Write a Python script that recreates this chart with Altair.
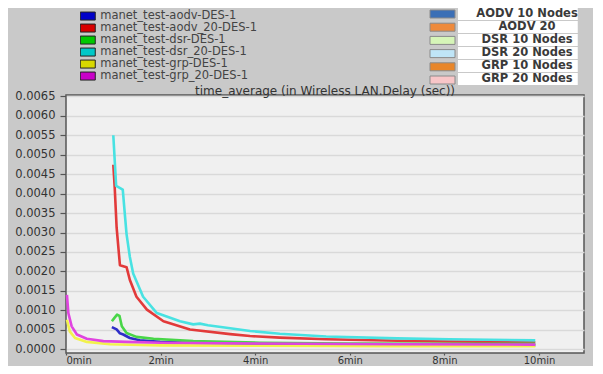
import altair as alt
import pandas as pd

# ---------------- data ----------------
series = ["manet_test-aodv-DES-1", "manet_test-aodv_20-DES-1", "manet_test-dsr-DES-1",
          "manet_test-dsr_20-DES-1", "manet_test-grp-DES-1", "manet_test-grp_20-DES-1"]
line_colors = ["#2e2ec8", "#e23a3a", "#48d648", "#48e2e2", "#f2f24c", "#e044e0"]
symbol_colors = ["#0000c8", "#d80000", "#00c800", "#00c8c8", "#d8d800", "#c800c8"]

aodv_t = [0.97, 1.07, 1.14, 1.21, 1.35, 1.56, 1.99, 2.6, 3.5, 5.0, 7.0, 9.92]
aodv_v = [0.00057, 0.00051, 0.00041, 0.00038, 0.00029, 0.00023, 0.00019, 0.00017,
          0.00015, 0.00013, 0.00011, 0.00010]

aodv20_t = [1.0, 1.03, 1.07, 1.14, 1.28, 1.35, 1.49, 1.71, 2.06, 2.62, 3.47, 3.89,
            4.52, 5.5, 7.0, 8.1, 9.92]
aodv20_v = [0.00474, 0.00415, 0.00313, 0.00216, 0.00211, 0.00178, 0.00135, 0.00102,
            0.00072, 0.00051, 0.00039, 0.00034, 0.00030, 0.00026, 0.00022, 0.00020, 0.00018]

dsr_t = [0.97, 1.02, 1.08, 1.13, 1.18, 1.28, 1.49, 1.85, 2.69, 4.1, 6.0, 8.0, 9.92]
dsr_v = [0.00072, 0.00080, 0.00089, 0.00086, 0.00059, 0.00042, 0.00032, 0.00027,
         0.00021, 0.00017, 0.00015, 0.00014, 0.00014]

dsr20_t = [1.0, 1.06, 1.2, 1.25, 1.28, 1.35, 1.42, 1.63, 1.92, 2.41, 2.69, 2.83, 3.0,
           3.47, 3.89, 4.52, 5.5, 7.0, 8.1, 9.92]
dsr20_v = [0.0055, 0.0042, 0.0041, 0.00338, 0.00296, 0.00237, 0.00195, 0.00135, 0.00093,
           0.00072, 0.00064, 0.00066, 0.00062, 0.00054, 0.00047, 0.00040, 0.00033,
           0.00028, 0.00026, 0.00023]

grp_t = [0.02, 0.08, 0.19, 0.44, 0.93, 2.0, 4.0, 7.0, 9.92]
grp_v = [0.00076, 0.00046, 0.00029, 0.00019, 0.00013, 0.00010, 0.00009, 0.00008, 0.00008]

grp20_t = [0.02, 0.05, 0.12, 0.23, 0.44, 0.79, 1.28, 2.0, 4.0, 7.0, 9.92]
grp20_v = [0.0014, 0.00093, 0.00059, 0.00038, 0.00027, 0.00021, 0.00019, 0.00017,
           0.00015, 0.00013, 0.00012]

protos = ["AODV 10 Nodes", "AODV 20", "DSR 10 Nodes", "DSR 20 Nodes", "GRP 10 Nodes", "GRP 20 Nodes"]
proto_colors = ["#3b6fb6", "#ee8a3c", "#d6f5b8", "#bfe5f7", "#e8862a", "#f8c6c8"]

x_ticks = [0, 2, 4, 6, 8, 10]
y_ticks = [round(i * 0.0005, 4) for i in range(14)]

title_text = "time_average (in Wireless LAN.Delay (sec))"

# ---------------- build tables ----------------
rows = []
for name, ts, vs in zip(series, [aodv_t, aodv20_t, dsr_t, dsr20_t, grp_t, grp20_t],
                        [aodv_v, aodv20_v, dsr_v, dsr20_v, grp_v, grp20_v]):
    for i, (t, v) in enumerate(zip(ts, vs)):
        rows.append({"Series": name, "t": t, "v": v, "idx": i})
df = pd.DataFrame(rows)
df_leg = pd.DataFrame({"Series": series})
df_proto = pd.DataFrame({"Proto": protos, "ProtoLabel": protos})

FONT = "DejaVu Sans"

lines = alt.Chart(df).mark_line(strokeWidth=2.6, strokeJoin="round").encode(
    x=alt.X("t:Q", scale=alt.Scale(domain=[0, 10.95], nice=False, zero=False),
            axis=alt.Axis(values=x_ticks, labelExpr="datum.value + 'min'", title=None,
                          grid=False, tickSize=2, labelPadding=0, labelFontSize=10,
                          labelFont=FONT, labelColor="#333")),
    y=alt.Y("v:Q", scale=alt.Scale(domain=[-0.000095, 0.006533], nice=False, zero=False),
            axis=alt.Axis(values=y_ticks, format=".4f", title=None, grid=True,
                          gridColor="#d9d9d9", gridWidth=1.5, tickSize=6, labelPadding=5,
                          labelFontSize=11.5, labelFont=FONT, labelColor="#333")),
    color=alt.Color("Series:N", scale=alt.Scale(domain=series, range=line_colors), legend=None),
    order=alt.Order("idx:Q"),
)

# legend symbol paths given in pixel units (symbolSize 4 -> scale 1)
left_path = "M-7.5,-4H7.5V4H-7.5Z"
left_leg = alt.Chart(df_leg).mark_point(filled=True, opacity=0).encode(
    fill=alt.Fill("Series:N", scale=alt.Scale(domain=series, range=symbol_colors),
                  legend=alt.Legend(orient="none", legendX=14, legendY=-83.95, title=None,
                                    symbolType=left_path, symbolSize=4, symbolOffset=2,
                                    symbolStrokeColor="#222", symbolStrokeWidth=1,
                                    symbolOpacity=1, labelFont=FONT, labelFontSize=11.5,
                                    labelColor="#444", labelOffset=6.75, rowPadding=0,
                                    clipHeight=10, padding=0, labelLimit=300)),
)

right_path = "M-12.5,-4H12.5V4H-12.5Z"
right_sym = alt.Chart(df_proto).mark_point(filled=True, opacity=0).encode(
    fill=alt.Fill("Proto:N", scale=alt.Scale(domain=protos, range=proto_colors),
                  legend=alt.Legend(orient="none", legendX=375, legendY=-82.5, title=None,
                                    symbolType=right_path, symbolSize=4,
                                    symbolStrokeColor="#8a8a8a", symbolStrokeWidth=1,
                                    symbolOpacity=1, labelExpr="''", labelFontSize=1,
                                    rowPadding=0.2, padding=0)),
)

# white label box, drawn so that the label sits in its middle
box_path = "M-63.25,-6H74.75V6H-63.25Z"
right_lab = alt.Chart(df_proto).mark_point(filled=True, opacity=0, color="white").encode(
    shape=alt.Shape("ProtoLabel:N", scale=alt.Scale(domain=protos, range=[box_path] * 6),
                    legend=alt.Legend(orient="none", legendX=385.5, legendY=-87.3, title=None,
                                      symbolSize=4, symbolFillColor="white",
                                      symbolStrokeColor="#b5b5b5", symbolStrokeWidth=1,
                                      symbolOpacity=1, symbolOffset=64,
                                      labelFont=FONT, labelFontWeight="bold",
                                      labelFontSize=11.5, labelColor="#3a3a3a",
                                      labelAlign="center", labelOffset=0, rowPadding=0,
                                      clipHeight=12.6, padding=0, labelLimit=300)),
)

chart = alt.layer(lines, left_leg, right_sym, right_lab).resolve_scale(
    fill="independent"
).properties(
    width=518, height=258,
    padding={"left": 58, "top": 87, "right": 9, "bottom": 13},
    autosize=alt.AutoSizeParams(type="none"),
    background="#c9c9c9",
    view=alt.ViewBackground(fill="#f0f0f0", stroke="#555", strokeWidth=1.5),
    title=alt.Title(text=title_text, font=FONT, fontSize=12, fontWeight="normal",
                    color="#333", anchor="middle", offset=2, dy=92, frame="group"),
).configure_axis(
    domain=False, tickColor="#555", tickWidth=1.2
)

chart.save("out.html", embed_options={"renderer": "svg", "actions": False})
